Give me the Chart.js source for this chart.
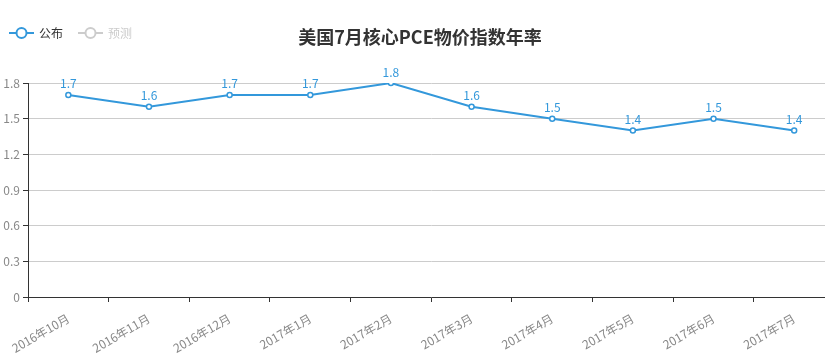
<!DOCTYPE html>
<html><head><meta charset="utf-8">
<script src="https://cdn.jsdelivr.net/npm/chart.js@4/dist/chart.umd.min.js"></script>
<style>html,body{margin:0;padding:0;background:#fff;overflow:hidden}#wrap{width:825px;height:362px;position:relative;overflow:hidden}</style>
</head><body><div id="wrap"><canvas id="c" width="840" height="362"></canvas></div>
<script>
const categories = ['2016年10月','2016年11月','2016年12月','2017年1月','2017年2月','2017年3月','2017年4月','2017年5月','2017年6月','2017年7月'];
const published = [1.7,1.6,1.7,1.7,1.8,1.6,1.5,1.4,1.5,1.4];
const forecast = [null,null,null,null,null,null,null,null,null,null];
const yTicks = [0,0.3,0.6,0.9,1.2,1.5,1.8];
const titleText = '美国7月核心PCE物价指数年率';
const FONT = '"Noto Sans CJK SC", "Microsoft YaHei", sans-serif';
const BLUE = '#3398DB';

const overlay = {
  id:'overlay',
  afterDatasetsDraw(chart){
    const ctx = chart.ctx;
    ctx.save();
    const meta = chart.getDatasetMeta(0);
    ctx.font = '12px ' + FONT;
    ctx.fillStyle = BLUE;
    ctx.textAlign = 'center';
    ctx.textBaseline = 'bottom';
    meta.data.forEach((pt,i)=>{
      ctx.fillText(String(published[i]), pt.x, pt.y - 5);
    });
    ctx.font = 'bold 18px ' + FONT;
    ctx.fillStyle = '#333';
    ctx.textAlign = 'center';
    ctx.textBaseline = 'middle';
    ctx.fillText(titleText, 420, 37);
    const items = [{x:9, ds:chart.data.datasets[0], on:true},{x:78, ds:chart.data.datasets[1], on:false}];
    items.forEach(it=>{
      const col = it.on ? BLUE : '#ccc';
      ctx.strokeStyle = col; ctx.lineWidth = 2;
      ctx.beginPath(); ctx.moveTo(it.x, 33); ctx.lineTo(it.x+25, 33); ctx.stroke();
      ctx.fillStyle = '#fff'; ctx.beginPath(); ctx.arc(it.x+12.5, 33, 5, 0, Math.PI*2); ctx.fill(); ctx.stroke();
      ctx.font = '12px ' + FONT;
      ctx.fillStyle = it.on ? '#333' : '#ccc';
      ctx.textAlign = 'left';
      ctx.fillText(it.ds.label, it.x+30, 33);
    });
    ctx.restore();
  }
};

new Chart(document.getElementById('c'), {
  type:'line',
  data:{labels:categories, datasets:[
    {label:'公布', data:published, borderColor:BLUE, backgroundColor:'#fff', borderWidth:2, pointRadius:2.5, pointBorderWidth:1.5, pointBackgroundColor:'#fff', pointBorderColor:BLUE, tension:0},
    {label:'预测', data:forecast, hidden:true, borderColor:'#ccc'}
  ]},
  options:{
    responsive:false, animation:false, devicePixelRatio:1,
    layout:{padding:{left:0,right:5.5,top:83,bottom:0}},
    plugins:{legend:{display:false}, title:{display:false}, tooltip:{enabled:false}},
    scales:{
      x:{
        offset:true,
        grid:{offset:true, drawOnChartArea:false, drawTicks:true, tickLength:5, tickColor:'#333'},
        border:{color:'#333', width:1},
        ticks:{autoSkip:false, maxRotation:30, minRotation:30, color:'#888', font:{size:12, family:FONT}, padding:9},
        afterFit(s){ s.height = 65; }
      },
      y:{
        min:0, max:1.8,
        afterBuildTicks(s){ s.ticks = yTicks.map(v=>({value:v})); },
        grid:{color:'#ccc', tickColor:'#333', tickLength:5, drawTicks:true},
        border:{color:'#333', width:1},
        ticks:{color:'#888', font:{size:12, family:FONT}, padding:3, callback:v=>String(Number(v.toFixed(1)))},
        afterFit(s){ s.width = 28; }
      }
    }
  },
  plugins:[overlay]
});
</script></body></html>
